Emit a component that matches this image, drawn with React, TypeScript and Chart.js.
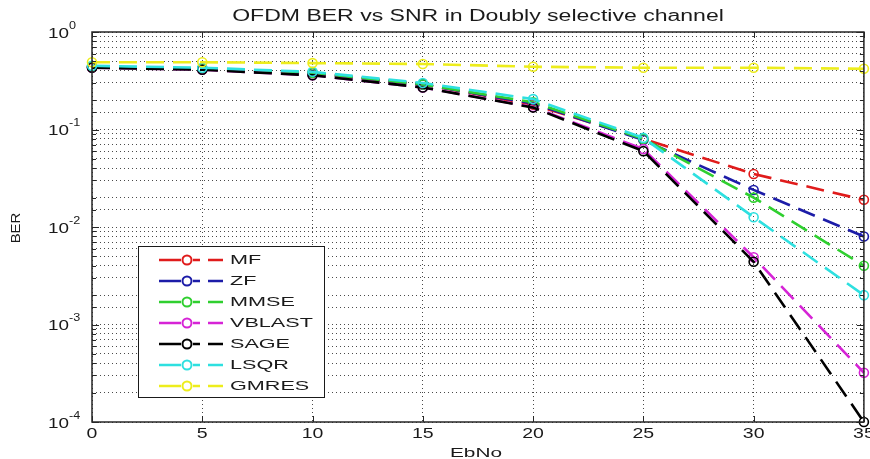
import { useEffect, useRef } from 'react';
import { Chart, registerables } from 'chart.js';

Chart.register(...registerables);

const titleText = 'OFDM BER vs SNR in Doubly selective channel';
const xAxisTitle = 'EbNo';
const yAxisTitle = 'BER';

const ebno = [0, 5, 10, 15, 20, 25, 30, 35];
const xTickLabels = ['0', '5', '10', '15', '20', '25', '30', '35'];
const yTickExponents = ['0', '-1', '-2', '-3', '-4'];

const seriesNames = ['MF', 'ZF', 'MMSE', 'VBLAST', 'SAGE', 'LSQR', 'GMRES'];
const mf = [0.44, 0.42, 0.38, 0.29, 0.18, 0.08, 0.035, 0.019];
const zf = [0.44, 0.42, 0.38, 0.29, 0.185, 0.078, 0.024, 0.008];
const mmse = [0.44, 0.42, 0.38, 0.29, 0.19, 0.08, 0.02, 0.004];
const vblast = [0.43, 0.41, 0.36, 0.27, 0.17, 0.063, 0.0049, 0.00032];
const sage = [0.43, 0.41, 0.36, 0.27, 0.168, 0.06, 0.0044, 0.0001];
const lsqr = [0.45, 0.43, 0.39, 0.3, 0.205, 0.082, 0.0126, 0.002];
const gmres = [0.49, 0.49, 0.48, 0.47, 0.44, 0.43, 0.43, 0.42];
const seriesValues = [mf, zf, mmse, vblast, sage, lsqr, gmres];
const seriesColors = ['#e01b1b', '#1c1ca8', '#2fcf2f', '#d624d6', '#000000', '#2ee0e0', '#eded1c'];

const FONT = '"Liberation Sans", Arial, sans-serif';

function txt(ctx: CanvasRenderingContext2D, s: string, x: number, y: number, size: number, sx: number,
  align: CanvasTextAlign = 'center', baseline: CanvasTextBaseline = 'middle', color = '#1a1a1a', rot = 0) {
  ctx.save();
  ctx.font = `${size}px ${FONT}`;
  ctx.textAlign = align;
  ctx.textBaseline = baseline;
  ctx.fillStyle = color;
  ctx.translate(x, y);
  if (rot) ctx.rotate(rot);
  ctx.scale(sx, 1);
  ctx.fillText(s, 0, 0);
  ctx.restore();
}

const overlay = {
  id: 'overlay',
  afterDraw(chart: any) {
    const { ctx, chartArea } = chart;
    const { left, right, top, bottom } = chartArea;
    const xs = chart.scales.x;
    const ys = chart.scales.y;
    ctx.save();
    // frame
    ctx.strokeStyle = '#262626';
    ctx.lineWidth = 1.5;
    ctx.setLineDash([]);
    ctx.strokeRect(left, top, right - left, bottom - top);
    // y ticks
    ctx.lineWidth = 1;
    ys.ticks.forEach((t: any) => {
      const py = Math.round(ys.getPixelForValue(t.value)) + 0.5;
      const lg = Math.log10(t.value);
      const major = Math.abs(lg - Math.round(lg)) < 1e-6;
      const len = major ? 7 : 4;
      ctx.beginPath();
      ctx.moveTo(left, py); ctx.lineTo(left + len, py);
      ctx.moveTo(right, py); ctx.lineTo(right - len, py);
      ctx.stroke();
    });
    // y labels (decades)
    yTickExponents.forEach((e) => {
      const py = ys.getPixelForValue(Math.pow(10, Number(e)));
      txt(ctx, '10', 48, py + 1.5, 15, 1.26, 'left');
      txt(ctx, e, 69, py - 6, 10, 1.26, 'left');
    });
    // x ticks and labels
    ebno.forEach((v, i) => {
      const px = Math.round(xs.getPixelForValue(v)) + 0.5;
      ctx.beginPath();
      ctx.moveTo(px, bottom); ctx.lineTo(px, bottom - 6);
      ctx.moveTo(px, top); ctx.lineTo(px, top + 6);
      ctx.stroke();
      txt(ctx, xTickLabels[i], xs.getPixelForValue(v), bottom + 12, 15, 1.3);
    });
    // titles
    txt(ctx, titleText, 478, 17, 16, 1.44);
    txt(ctx, xAxisTitle, 476, 453, 13, 1.6);
    txt(ctx, yAxisTitle, 16, 228, 13, 1.15, 'center', 'middle', '#1a1a1a', -Math.PI / 2);
    // legend
    const bx = 138, by = 246, bw = 186, bh = 151;
    ctx.fillStyle = '#ffffff';
    ctx.fillRect(bx, by, bw, bh);
    ctx.strokeStyle = '#1a1a1a';
    ctx.lineWidth = 1;
    ctx.strokeRect(bx + 0.5, by + 0.5, bw, bh);
    seriesNames.forEach((name, i) => {
      const ly = 260 + i * 21;
      ctx.strokeStyle = seriesColors[i];
      ctx.lineWidth = 2.4;
      ctx.beginPath();
      ctx.moveTo(159, ly); ctx.lineTo(181, ly);
      ctx.moveTo(193, ly); ctx.lineTo(200, ly);
      ctx.moveTo(208, ly); ctx.lineTo(223, ly);
      ctx.stroke();
      ctx.fillStyle = '#ffffff';
      ctx.beginPath();
      ctx.arc(187, ly, 4.5, 0, Math.PI * 2);
      ctx.fill();
      ctx.lineWidth = 2;
      ctx.stroke();
      txt(ctx, name, 230, ly + 0.5, 13.5, 1.6, 'left');
    });
    ctx.restore();
  },
};

export default function App() {
  const ref = useRef<HTMLCanvasElement>(null);
  useEffect(() => {
    document.body.style.margin = '0';
    const datasets = seriesNames.map((name, i) => ({
      label: name,
      data: ebno.map((x, j) => ({ x, y: seriesValues[i][j] })),
      borderColor: seriesColors[i],
      backgroundColor: seriesColors[i],
      borderWidth: 2.6,
      borderDash: [18, 9],
      pointRadius: 4.5,
      pointBorderWidth: 1.6,
      pointBackgroundColor: 'rgba(0,0,0,0)',
      pointBorderColor: seriesColors[i],
      tension: 0,
      fill: false,
      clip: 10,
      order: seriesNames.length - i,
    }));
    const gridOpts = { color: '#4a4a4a', lineWidth: 1, drawTicks: false };
    const chart = new Chart(ref.current!, {
      type: 'line',
      data: { datasets },
      options: {
        animation: false,
        responsive: false,
        devicePixelRatio: 1,
        layout: { padding: { top: 32, right: 2, left: 0, bottom: 0 } },
        plugins: { legend: { display: false }, tooltip: { enabled: false }, title: { display: false } },
        scales: {
          x: {
            type: 'linear', min: 0, max: 35,
            ticks: { stepSize: 5, display: false },
            grid: gridOpts,
            border: { display: false, dash: [1, 3] },
            afterFit: (s: any) => { s.height = 37; },
          },
          y: {
            type: 'logarithmic', min: 1e-4, max: 1,
            ticks: { display: false },
            grid: gridOpts,
            border: { display: false, dash: [1, 3] },
            afterFit: (s: any) => { s.width = 92; },
          },
        },
      } as any,
      plugins: [overlay],
    });
    return () => chart.destroy();
  }, []);
  return <canvas ref={ref} width={870} height={459} style={{ display: 'block', width: 870, height: 459 }} />;
}
